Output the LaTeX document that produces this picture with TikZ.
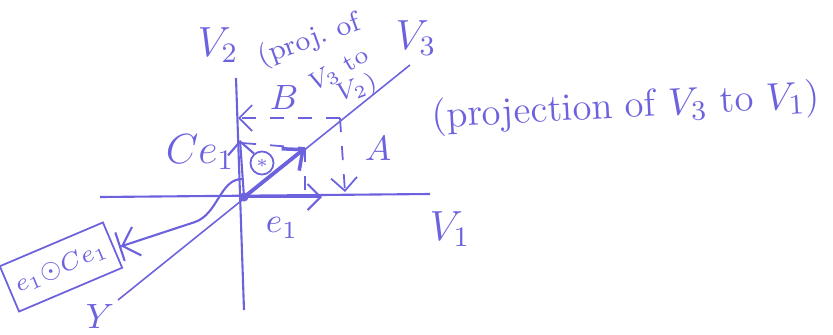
\documentclass[tikz,border=0pt]{standalone}
\usetikzlibrary{arrows.meta}
\definecolor{ink}{RGB}{108,98,222}
\begin{document}
\begin{tikzpicture}[color=ink,line width=0.6pt,
  lbl/.style={text=ink,inner sep=1pt},
  proj/.style={dash pattern=on 4pt off 4pt,line width=0.5pt},
  tip/.style={-{Straight Barb[length=1.3mm,width=2.6mm]}}]
\useasboundingbox (0,0) rectangle (8.33,3.34);
\coordinate (O) at (2.44,1.37);
\coordinate (v1l) at (1.00,1.37);
\coordinate (v1r) at (4.30,1.40);
\coordinate (v2b) at (2.44,0.24);
\coordinate (v2t) at (2.36,2.56);
\coordinate (v3b) at (1.18,0.34);
\coordinate (v3t) at (4.10,2.69);
\coordinate (e1) at (3.22,1.37);
\coordinate (v3) at (3.05,1.86);
\coordinate (v2) at (2.40,1.94);
\coordinate (v2d) at (2.42,1.91);
\coordinate (v3f) at (3.05,1.37);
\coordinate (Bp) at (3.40,2.16);
\coordinate (Bq) at (2.38,2.16);
\coordinate (Ap) at (3.45,1.42);
\coordinate (ce) at (2.42,1.55);
\coordinate (cemid) at (1.95,1.12);
\coordinate (ceend) at (1.19,0.87);
% axes
\draw (v1l) -- (v1r);
\draw (v2b) -- (v2t);
\draw[line width=0.45pt] (v3b) -- (v3t);
\fill (O) circle (1.3pt);
% vectors
\draw[tip] (O) -- (e1);
\draw[-{Straight Barb[length=1.6mm,width=2.8mm]},line width=1pt] (O) -- (v3);
\draw[tip] (O) -- (v2);
% projections
\draw[proj] (v2d) -- (v3);
\draw[proj] (v3) -- (v3f);
\draw[proj,tip] (Bp) -- (Bq);
\draw[proj,tip] (Bp) -- (Ap);
% labels
\node[lbl] (lv1) at (4.50,1.05) {\large $V_1$};
\node[lbl] (lv2) at (2.18,2.89) {\large $V_2$};
\node[lbl] (lv3) at (4.16,2.96) {\large $V_3$};
\node[lbl] (ly) at (1.00,0.18) {$Y$};
\node[lbl] (le1) at (2.82,1.06) {$e_1$};
\node[lbl] (lA) at (3.78,1.86) {$A$};
\node[lbl] (lB) at (2.84,2.37) {$B$};
\node[lbl] (lce) at (2.00,1.82) {\large $Ce_1$};
\node[lbl,draw,circle,inner sep=0.8pt,line width=0.5pt] (star) at (2.62,1.71) {\tiny $\ast$};
\node[lbl,rotate=20] (pv2a) at (3.09,2.93) {\footnotesize (proj.\ of};
\node[lbl,rotate=30] (pv2b) at (3.39,2.64) {\scriptsize $V_3$ to};
\node[lbl,rotate=20] (pv2c) at (3.57,2.45) {\scriptsize $V_2$)};
\node[lbl,rotate=3] (pv1) at (6.26,2.26) {\fontsize{11}{13}\selectfont (projection of $V_3$ to $V_1$)};
\node[lbl,draw,rotate=23,inner sep=2pt,minimum height=14pt,line width=0.5pt] (res) at (0.61,0.67) {\scriptsize $e_1{\odot}Ce_1$};
% Ce1 path
\draw[-{Straight Barb[length=1.5mm,width=3mm]Bar[width=3mm]}] (ce) .. controls (2.20,1.55) and (2.18,1.20) .. (cemid) -- (ceend);
\end{tikzpicture}
\end{document}
